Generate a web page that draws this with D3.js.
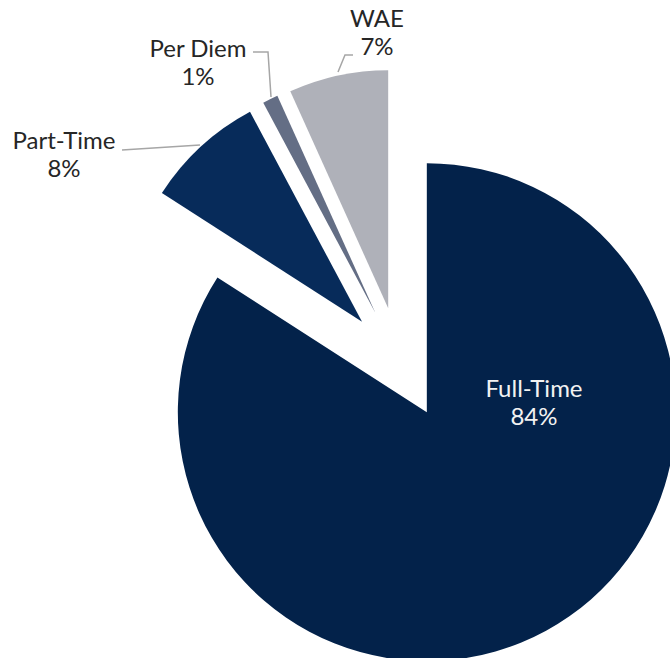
<!DOCTYPE html>
<html>
<head>
<meta charset="utf-8">
<script src="https://cdn.jsdelivr.net/npm/d3@7"></script>
<style>
  html, body { margin: 0; padding: 0; background: #ffffff; }
  svg { display: block; }
  text { font-family: "Century Gothic", "URW Gothic", Lato, "DejaVu Sans", sans-serif; }
</style>
</head>
<body>
<script>
// ---- data ----
const categories = ["Full-Time", "Part-Time", "Per Diem", "WAE"];
const values = [84.1, 8.1, 1.05, 6.75];

// ---- styles / layout ----
const colors = ["#03224a", "#072b5a", "#646e85", "#afb1b9"];
const radii = [249, 238, 238, 238];
const explode = 56;
const center = [400, 363];
const labelStyle = [
  { x: 534, y: 397, color: "#f2f2f2" },
  { x: 64, y: 149, color: "#262626" },
  { x: 198, y: 57, color: "#262626" },
  { x: 377, y: 27, color: "#262626" }
];
const leaders = [
  null,
  [[122, 150], [200, 145]],
  [[253, 52], [268, 52], [271, 97]],
  [[353, 55], [345, 55], [338, 72]]
];

const W = 670, H = 658;
const svg = d3.select("body").append("svg").attr("width", W).attr("height", H);

const pie = d3.pie().sort(null).value(d => d.value).startAngle(0).endAngle(2 * Math.PI);
const data = categories.map((c, i) => ({ name: c, value: values[i], i }));
const arcs = pie(data);
const total = d3.sum(values);

const g = svg.append("g").attr("transform", `translate(${center[0]},${center[1]})`);
g.selectAll("path.slice")
  .data(arcs)
  .join("path")
  .attr("class", "slice")
  .attr("fill", d => colors[d.data.i])
  .attr("transform", d => {
    const a = (d.startAngle + d.endAngle) / 2;
    return `translate(${explode * Math.sin(a)},${-explode * Math.cos(a)})`;
  })
  .attr("d", d => d3.arc().innerRadius(0).outerRadius(radii[d.data.i])(d));

// leader lines
const line = d3.line();
svg.selectAll("path.leader")
  .data(leaders.filter(l => l))
  .join("path")
  .attr("class", "leader")
  .attr("d", d => line(d))
  .attr("fill", "none")
  .attr("stroke", "#a6a6a6")
  .attr("stroke-width", 1.5);

// labels
const fmt = v => Math.round(v / total * 100) + "%";
const lab = svg.selectAll("text.lab")
  .data(arcs)
  .join("text")
  .attr("class", "lab")
  .attr("text-anchor", "middle")
  .attr("font-size", 24)
  .attr("fill", d => labelStyle[d.data.i].color)
  .attr("x", d => labelStyle[d.data.i].x)
  .attr("y", d => labelStyle[d.data.i].y);
lab.append("tspan").attr("x", d => labelStyle[d.data.i].x).text(d => d.data.name);
lab.append("tspan").attr("x", d => labelStyle[d.data.i].x).attr("dy", 28).text(d => fmt(d.data.value));
</script>
</body>
</html>
